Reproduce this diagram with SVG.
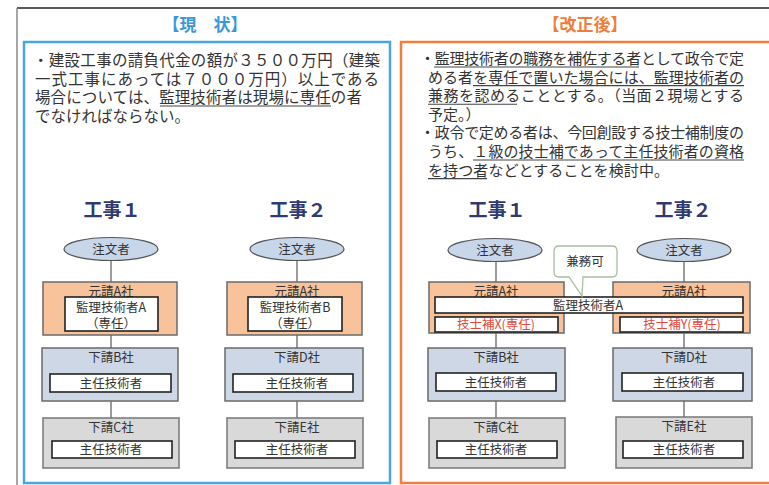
<svg xmlns="http://www.w3.org/2000/svg" width="769" height="485" viewBox="0 0 769 485">
<style>
text{font-family:"Noto Sans CJK JP","Noto Sans",sans-serif;fill:#333}
.body{font-size:15.5px}
.ul line{stroke:#444;stroke-width:1.1}
.ttl{font-size:17px;font-weight:bold;text-anchor:middle}
.kj{font-size:19px;font-weight:bold;fill:#2f3b70;text-anchor:middle}
.lbl{font-size:12.5px;text-anchor:middle}
.ell{fill:#c8d6ea;stroke:#555;stroke-width:1.2}
.moto{fill:#f8c39b;stroke:#6a6a6a;stroke-width:1.5}
.shitaB{fill:#ced7e5;stroke:#6a6a6a;stroke-width:1.5}
.shitaC{fill:#d9d9d9;stroke:#777;stroke-width:1.5}
.wb{fill:#fff;stroke:#222;stroke-width:1.6}
.red{fill:#e04a3c}
.conn line{stroke:#666;stroke-width:1.3}
</style>
<rect width="769" height="485" fill="#fff"/>
<line x1="17" y1="8" x2="769" y2="8" stroke="#222" stroke-width="1.5"/>
<line x1="17" y1="8" x2="17" y2="485" stroke="#888" stroke-width="1.5"/>
<rect x="24" y="42" width="366" height="441" fill="#fff" stroke="#49a6df" stroke-width="2.5"/>
<rect x="401" y="42" width="380" height="441" fill="#fff" stroke="#ef7f3d" stroke-width="2.5"/>
<text class="ttl" x="205" y="31" style="fill:#3b98d6">【現　状】</text>
<text class="ttl" x="585" y="31" style="fill:#ef7d3a">【改正後】</text>

<g id="text-left" class="body">
<text x="33" y="66" textLength="347">・建設工事の請負代金の額が３５００万円（建築</text>
<text x="35" y="84.5" textLength="344">一式工事にあっては７０００万円）以上である</text>
<text x="35" y="103" textLength="327">場合については、監理技術者は現場に専任の者</text>
<text x="35" y="121.5">でなければならない。</text>
</g>
<g class="ul">
<line x1="160" y1="106" x2="331" y2="106"/>
</g>
<g id="text-right" class="body" style="font-size:15px">
<text x="420" y="64" textLength="324">・監理技術者の職務を補佐する者として政令で定</text>
<text x="428" y="82.6" textLength="316">める者を専任で置いた場合には、監理技術者の</text>
<text x="428" y="101.2" textLength="316">兼務を認めることとする。（当面２現場とする</text>
<text x="428" y="119.8">予定。）</text>
<text x="420" y="138.4" textLength="324">・政令で定める者は、今回創設する技士補制度の</text>
<text x="428" y="157" textLength="316">うち、１級の技士補であって主任技術者の資格</text>
<text x="428" y="175.6" textLength="241">を持つ者などとすることを検討中。</text>
</g>
<g class="ul">
<line x1="434" y1="67" x2="639" y2="67"/>
<line x1="473" y1="85.6" x2="744" y2="85.6"/>
<line x1="428" y1="104.2" x2="517" y2="104.2"/>
<line x1="473" y1="160" x2="744" y2="160"/>
<line x1="428" y1="178.6" x2="487" y2="178.6"/>
</g>

<text class="kj" x="112" y="217">工事１</text>
<text class="kj" x="298" y="217">工事２</text>
<text class="kj" x="497" y="217">工事１</text>
<text class="kj" x="683" y="217">工事２</text>

<g id="connectors" class="conn">
<line x1="111" y1="260" x2="111" y2="282"/>
<line x1="111" y1="335" x2="111" y2="348"/>
<line x1="111" y1="401" x2="111" y2="418"/>
<line x1="297" y1="260" x2="297" y2="282"/>
<line x1="297" y1="335" x2="297" y2="348"/>
<line x1="297" y1="401" x2="297" y2="418"/>
<line x1="496" y1="261" x2="496" y2="282"/>
<line x1="496" y1="333" x2="496" y2="348"/>
<line x1="496" y1="401" x2="496" y2="418"/>
<line x1="684" y1="261" x2="684" y2="282"/>
<line x1="684" y1="333" x2="684" y2="348"/>
<line x1="684" y1="401" x2="684" y2="417"/>
</g>

<!-- left column 1 -->
<g id="L1-client"><ellipse class="ell" cx="111" cy="249" rx="47" ry="11.5"/><text class="lbl" x="111" y="253.5">注文者</text></g>
<g id="L1-moto"><rect class="moto" x="43" y="282" width="134" height="53"/><text class="lbl" x="111" y="295.5">元請A社</text>
<rect class="wb" x="65" y="297" width="93" height="34"/><text class="lbl" x="111" y="312">監理技術者A</text><text class="lbl" x="111" y="328">（専任）</text></g>
<g id="L1-B"><rect class="shitaB" x="42" y="348" width="136" height="53"/><text class="lbl" x="111" y="361.5">下請B社</text>
<rect class="wb" x="50" y="374" width="121" height="18"/><text class="lbl" x="111" y="387.5">主任技術者</text></g>
<g id="L1-C"><rect class="shitaC" x="43" y="418" width="136" height="50"/><text class="lbl" x="111" y="431.5">下請C社</text>
<rect class="wb" x="52" y="441" width="120" height="17"/><text class="lbl" x="111" y="454">主任技術者</text></g>

<!-- left column 2 -->
<g id="L2-client"><ellipse class="ell" cx="297" cy="249" rx="47" ry="11.5"/><text class="lbl" x="297" y="253.5">注文者</text></g>
<g id="L2-moto"><rect class="moto" x="227" y="282" width="135" height="53"/><text class="lbl" x="297" y="295.5">元請A社</text>
<rect class="wb" x="248" y="297" width="94" height="34"/><text class="lbl" x="295" y="312">監理技術者B</text><text class="lbl" x="295" y="328">（専任）</text></g>
<g id="L2-D"><rect class="shitaB" x="225" y="348" width="138" height="53"/><text class="lbl" x="297" y="361.5">下請D社</text>
<rect class="wb" x="233" y="374" width="120" height="18"/><text class="lbl" x="297" y="387.5">主任技術者</text></g>
<g id="L2-E"><rect class="shitaC" x="227" y="418" width="136" height="50"/><text class="lbl" x="297" y="431.5">下請E社</text>
<rect class="wb" x="235" y="441" width="120" height="17"/><text class="lbl" x="297" y="454">主任技術者</text></g>

<!-- right column 1 -->
<g id="R1-client"><ellipse class="ell" cx="495" cy="250" rx="47" ry="11.5"/><text class="lbl" x="495" y="254.5">注文者</text></g>
<g id="R1-moto"><rect class="moto" x="429" y="282" width="135" height="51"/><text class="lbl" x="496" y="295.5">元請A社</text></g>
<g id="R2-moto"><rect class="moto" x="613" y="282" width="137" height="51"/><text class="lbl" x="684" y="295.5">元請A社</text></g>
<g id="R-kanri"><rect class="wb" x="435" y="297" width="308" height="16"/><text class="lbl" x="588" y="309.5">監理技術者A</text></g>
<g id="R1-gishiho"><rect class="wb" x="435" y="317" width="123" height="15"/><text class="lbl red" x="496" y="329">技士補X(専任)</text></g>
<g id="R2-gishiho"><rect class="wb" x="620" y="317" width="123" height="15"/><text class="lbl red" x="682" y="329">技士補Y(専任)</text></g>
<g id="R1-B"><rect class="shitaB" x="428" y="348" width="137" height="53"/><text class="lbl" x="496" y="361.5">下請B社</text>
<rect class="wb" x="436" y="373" width="120" height="18"/><text class="lbl" x="496" y="386.5">主任技術者</text></g>
<g id="R1-C"><rect class="shitaC" x="429" y="418" width="136" height="50"/><text class="lbl" x="496" y="431.5">下請C社</text>
<rect class="wb" x="437" y="441" width="120" height="17"/><text class="lbl" x="496" y="454">主任技術者</text></g>

<!-- right column 2 -->
<g id="R2-client"><ellipse class="ell" cx="684" cy="250" rx="47" ry="11.5"/><text class="lbl" x="684" y="254.5">注文者</text></g>
<g id="R2-D"><rect class="shitaB" x="613" y="348" width="139" height="53"/><text class="lbl" x="684" y="361.5">下請D社</text>
<rect class="wb" x="622" y="373" width="121" height="18"/><text class="lbl" x="684" y="386.5">主任技術者</text></g>
<g id="R2-E"><rect class="shitaC" x="616" y="417" width="136" height="51"/><text class="lbl" x="684" y="430.5">下請E社</text>
<rect class="wb" x="623" y="441" width="120" height="17"/><text class="lbl" x="684" y="454">主任技術者</text></g>

<g id="callout">
<path d="M559,246 H612 Q617,246 617,251 V272 Q617,277 612,277 H583 L582,296 L569,277 H559 Q554,277 554,272 V251 Q554,246 559,246 Z" fill="#fff" stroke="#a9bf9f" stroke-width="1.3"/>
<text class="lbl" x="585" y="266">兼務可</text>
</g>
</svg>
